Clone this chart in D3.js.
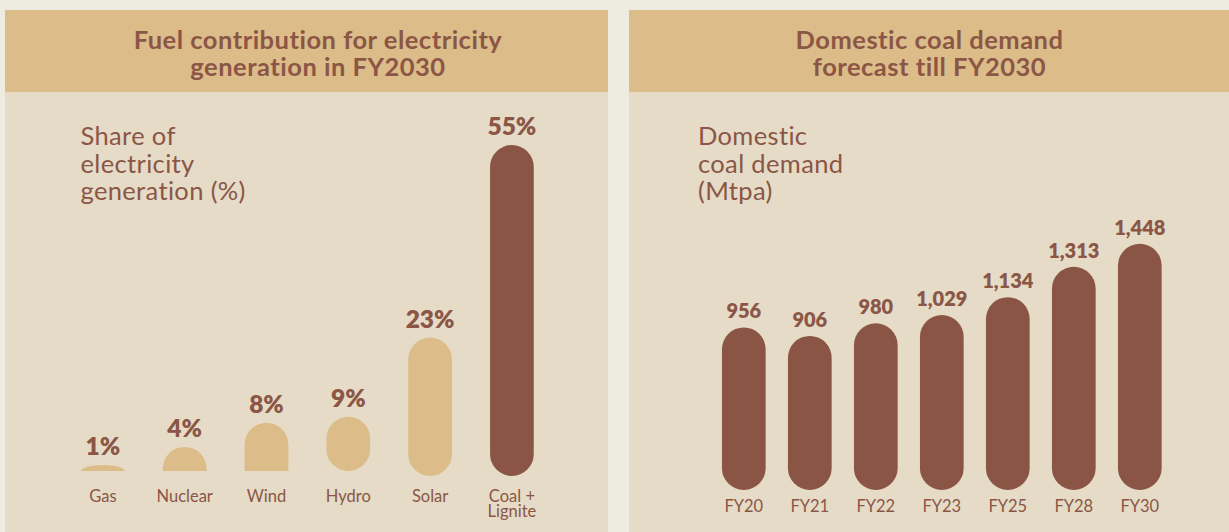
<!DOCTYPE html>
<html>
<head>
<meta charset="utf-8">
<script src="https://cdn.jsdelivr.net/npm/d3@7"></script>
<style>
  body { margin: 0; background: #eeebe1; }
  svg { display: block; font-family: Lato, "Open Sans", sans-serif; }
</style>
</head>
<body>
<script>
'use strict';

const width = 1229;
const height = 532;

// left chart: share of electricity generation in FY2030 (%)
const fuels = ['Gas', 'Nuclear', 'Wind', 'Hydro', 'Solar', 'Coal + Lignite'];
const fuelShare = [1, 4, 8, 9, 23, 55];

// right chart: domestic coal demand (Mtpa)
const years = ['FY20', 'FY21', 'FY22', 'FY23', 'FY25', 'FY28', 'FY30'];
const coalDemand = [956, 906, 980, 1029, 1134, 1313, 1448];

const brown = '#8a5545';
const sand = '#dcbc88';
const textColor = '#8b5646';

let svg = d3.select('body').append('svg').attr('width', width).attr('height', height);

svg.append('rect').attr('width', width).attr('height', height).attr('fill', '#eeebe1');

function panel(x0, x1, titleCenter, titleLines, axisLines, axisX) {
    let g = svg.append('g');
    g.append('rect').attr('x', x0).attr('y', 10).attr('width', x1 - x0).attr('height', height - 10).attr('fill', '#e5dbc6');
    g.append('rect').attr('x', x0).attr('y', 10).attr('width', x1 - x0).attr('height', 82).attr('fill', sand);
    g.append('text')
        .attr('text-anchor', 'middle')
        .attr('fill', textColor)
        .attr('font-weight', 700)
        .attr('font-size', 25.5)
        .attr('letter-spacing', 0.5)
        .selectAll('tspan')
        .data(titleLines)
        .join('tspan')
        .attr('x', titleCenter)
        .attr('y', (d, i) => 49 + i * 26.5)
        .text(d => d);
    g.append('text')
        .attr('fill', textColor)
        .attr('font-size', 25.5)
        .attr('letter-spacing', 0.35)
        .selectAll('tspan')
        .data(axisLines)
        .join('tspan')
        .attr('x', axisX)
        .attr('y', (d, i) => 145 + i * 27.7)
        .text(d => d);
    return g;
}

let left = panel(5, 608, 318, ['Fuel contribution for electricity', 'generation in FY2030'],
    ['Share of', 'electricity', 'generation (%)'], 80.5);
let right = panel(629, 1240, 929.5, ['Domestic coal demand', 'forecast till FY2030'],
    ['Domestic', 'coal demand', '(Mtpa)'], 698);

// ---- left chart ----
let xL = d3.scaleBand().domain(fuels).range([62, 552.8]).paddingInner(0.466).paddingOuter(0.233);
let yL = d3.scaleLinear().domain([0, 55]).range([476, 145]);
let leftData = fuels.map((f, i) => ({ name: f, value: fuelShare[i] }));

// short bars sit 5px higher and the shortest ones keep a flat foot
function leftShape(d) {
    let bw = xL.bandwidth();
    let r = bw / 2;
    let x0 = xL(d.name);
    let x1 = x0 + bw;
    let top = yL(d.value);
    let bottom = yL(0);
    let h = bottom - top;
    if (h < 3 * r) {
        top -= 5;
        bottom -= 5;
    }
    if (h >= 2.4 * r) {
        return `M${x0},${top + r} A${r},${r} 0 0 1 ${x1},${top + r} V${bottom - r} A${r},${r} 0 0 1 ${x0},${bottom - r} Z`;
    }
    if (h >= r) {
        return `M${x0},${bottom} V${top + r} A${r},${r} 0 0 1 ${x1},${top + r} V${bottom} Z`;
    }
    return `M${x0},${bottom} A${r},${h} 0 0 1 ${x1},${bottom} Z`;
}

function leftTop(d) {
    let h = yL(0) - yL(d.value);
    return yL(d.value) - (h < 3 * xL.bandwidth() / 2 ? 5 : 0);
}

left.append('g')
    .selectAll('path')
    .data(leftData)
    .join('path')
    .attr('d', leftShape)
    .attr('fill', d => d.name === 'Coal + Lignite' ? brown : sand);

left.append('g')
    .selectAll('text')
    .data(leftData)
    .join('text')
    .attr('x', d => xL(d.name) + xL.bandwidth() / 2)
    .attr('y', d => leftTop(d) - 10)
    .attr('text-anchor', 'middle')
    .attr('fill', textColor)
    .attr('font-weight', 800)
    .attr('font-size', 24.5)
    .text(d => d.value + '%');

let xAxisL = left.append('g')
    .attr('transform', 'translate(0,488)')
    .call(d3.axisBottom(xL).tickSize(0).tickPadding(0));
xAxisL.select('.domain').remove();
xAxisL.selectAll('text')
    .attr('fill', textColor)
    .attr('font-size', 16.5)
    .attr('font-family', 'Lato, sans-serif')
    .attr('dy', null)
    .attr('y', 13.7)
    .each(function (d) {
        let parts = d.split(' + ');
        if (parts.length > 1) {
            let t = d3.select(this).text(null);
            t.append('tspan').attr('x', 0).text(parts[0] + ' +');
            t.append('tspan').attr('x', 0).attr('dy', 15.6).text(parts[1]);
        }
    });

// ---- right chart ----
let xR = d3.scaleBand().domain(years).range([710.8, 1172.8]).paddingInner(0.338).paddingOuter(0.169);
let yR = d3.scaleLinear().domain([0, 1448]).range([490, 243.8]);
let rightData = years.map((y, i) => ({ name: y, value: coalDemand[i] }));

right.append('g')
    .selectAll('rect')
    .data(rightData)
    .join('rect')
    .attr('x', d => xR(d.name))
    .attr('y', d => yR(d.value))
    .attr('width', xR.bandwidth())
    .attr('height', d => yR(0) - yR(d.value))
    .attr('rx', xR.bandwidth() / 2)
    .attr('fill', brown);

right.append('g')
    .selectAll('text')
    .data(rightData)
    .join('text')
    .attr('x', d => xR(d.name) + xR.bandwidth() / 2)
    .attr('y', d => yR(d.value) - 9)
    .attr('text-anchor', 'middle')
    .attr('fill', textColor)
    .attr('font-weight', 800)
    .attr('font-size', 20)
    .text(d => d3.format(',')(d.value));

let xAxisR = right.append('g')
    .attr('transform', 'translate(0,498)')
    .call(d3.axisBottom(xR).tickSize(0).tickPadding(0));
xAxisR.select('.domain').remove();
xAxisR.selectAll('text')
    .attr('fill', textColor)
    .attr('font-size', 16.5)
    .attr('font-family', 'Lato, sans-serif')
    .attr('dy', null)
    .attr('y', 14.3);
</script>
</body>
</html>
